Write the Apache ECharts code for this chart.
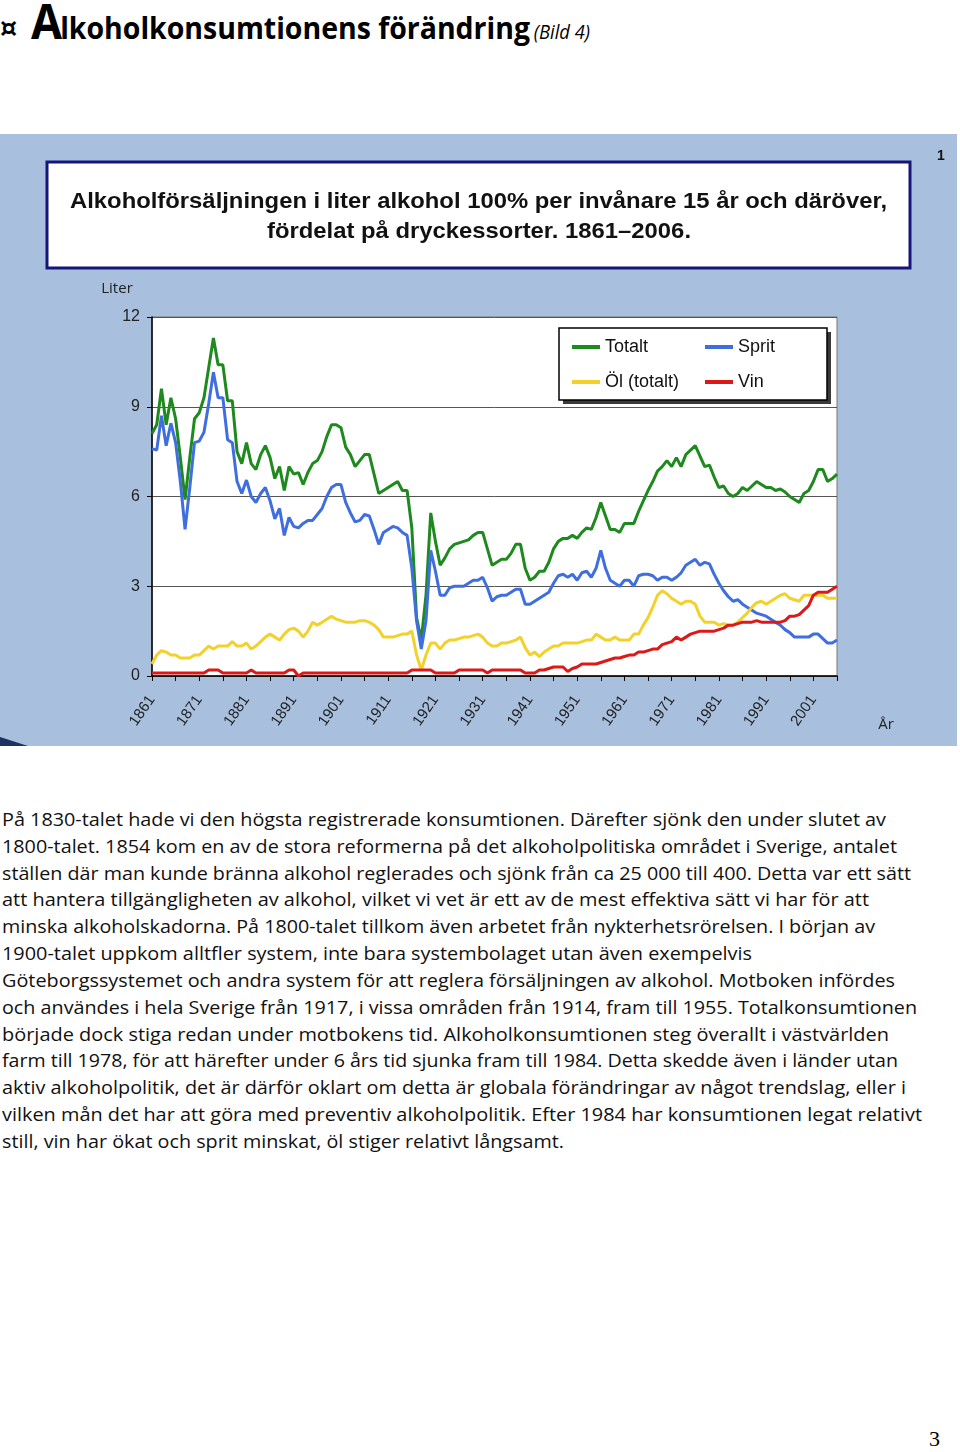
<!DOCTYPE html>
<html><head><meta charset="utf-8">
<script src="https://cdn.jsdelivr.net/npm/echarts@6.0.0/dist/echarts.min.js"></script>
<style>
html,body{margin:0;padding:0;background:#fff;width:960px;height:1452px;overflow:hidden;position:relative}
#chart{position:absolute;left:0;top:134px;width:957px;height:612px}
.ln{position:absolute;left:2px;white-space:nowrap;font-family:"Open Sans";font-size:19px;color:#111;transform-origin:0 50%;line-height:27px;height:27px}
#ttl{position:absolute;left:31px;top:-4px;white-space:nowrap;transform-origin:0 0;font-family:"Open Sans";color:#000;line-height:48px;height:48px}
</style></head><body>
<div style="position:absolute;left:0px;top:13px;font:bold 27px 'DejaVu Sans';line-height:30px;color:#000">¤</div>
<div id="ttl"><span style="font-weight:bold;font-size:49px;letter-spacing:-2px">A</span><span style="font-weight:bold;font-size:31px">lkoholkonsumtionens förändring</span> <span style="font-style:italic;font-size:20px">(Bild 4)</span></div>
<div id="chart"></div>
<div id="body"></div>
<div style="position:absolute;left:929px;top:1426px;font:22px 'Liberation Serif';color:#000">3</div>
<script>
// ---- DATA ----
const years = [];
for (let y = 1861; y <= 2006; y++) years.push(String(y));

const totalt = [
  8.1, 8.4, 9.6, 8.4, 9.3, 8.6, 7.3, 5.9, 7.3, 8.6,
  8.8, 9.3, 10.3, 11.3, 10.4, 10.4, 9.2, 9.2, 7.5, 7.1,
  7.8, 7.1, 6.9, 7.4, 7.7, 7.3, 6.6, 7.0, 6.2, 7.0,
  6.75, 6.8, 6.4, 6.8, 7.1, 7.2, 7.5, 8.0, 8.4, 8.4,
  8.3, 7.65, 7.4, 7.0, 7.2, 7.4, 7.4, 6.75, 6.1, 6.2,
  6.3, 6.4, 6.5, 6.2, 6.2, 4.95, 1.95, 1.2, 2.7, 5.45,
  4.5, 3.7, 3.95, 4.25, 4.4, 4.45, 4.5, 4.55, 4.7, 4.8,
  4.8, 4.25, 3.7, 3.8, 3.9, 3.9, 4.1, 4.4, 4.4, 3.6,
  3.2, 3.3, 3.5, 3.5, 3.8, 4.25, 4.5, 4.6, 4.6, 4.7,
  4.6, 4.8, 4.95, 4.9, 5.3, 5.8, 5.35, 4.9, 4.9, 4.8,
  5.1, 5.1, 5.1, 5.5, 5.85, 6.2, 6.5, 6.85, 7.0, 7.2,
  7.0, 7.3, 7.0, 7.4, 7.55, 7.7, 7.35, 7.0, 7.05, 6.65,
  6.3, 6.35, 6.1, 6.0, 6.1, 6.3, 6.2, 6.35, 6.5, 6.4,
  6.3, 6.3, 6.2, 6.25, 6.15, 6.0, 5.9, 5.8, 6.1, 6.2,
  6.5, 6.9, 6.9, 6.5, 6.6, 6.75
];
const sprit = [
  7.6, 7.55, 8.7, 7.7, 8.45, 7.8, 6.5, 4.9, 6.3, 7.8,
  7.85, 8.15, 9.1, 10.15, 9.3, 9.3, 7.9, 7.8, 6.5, 6.1,
  6.55, 6.0, 5.8, 6.1, 6.3, 5.85, 5.25, 5.6, 4.7, 5.3,
  5.0, 4.95, 5.1, 5.2, 5.2, 5.4, 5.6, 6.0, 6.3, 6.4,
  6.4, 5.8, 5.45, 5.15, 5.2, 5.4, 5.35, 4.9, 4.4, 4.8,
  4.9, 5.0, 4.95, 4.8, 4.7, 3.6, 1.85, 0.9, 1.85, 4.2,
  3.5, 2.7, 2.7, 2.95, 3.0, 3.0, 3.0, 3.1, 3.2, 3.2,
  3.3, 2.95, 2.5, 2.65, 2.7, 2.7, 2.8, 2.9, 2.9, 2.4,
  2.4, 2.5, 2.6, 2.7, 2.8, 3.1, 3.35, 3.4, 3.3, 3.4,
  3.2, 3.45, 3.5, 3.3, 3.6, 4.2, 3.6, 3.2, 3.1, 3.0,
  3.2, 3.2, 3.0, 3.35, 3.4, 3.4, 3.35, 3.2, 3.3, 3.3,
  3.2, 3.3, 3.45, 3.7, 3.8, 3.9, 3.7, 3.8, 3.75, 3.4,
  3.1, 2.85, 2.65, 2.5, 2.55, 2.4, 2.3, 2.2, 2.1, 2.05,
  2.0, 1.9, 1.8, 1.7, 1.55, 1.45, 1.3, 1.3, 1.3, 1.3,
  1.4, 1.4, 1.25, 1.1, 1.1, 1.2
];
const ol = [
  0.4, 0.7, 0.85, 0.8, 0.7, 0.7, 0.6, 0.6, 0.6, 0.7,
  0.7, 0.85, 1.0, 0.9, 1.0, 1.0, 1.0, 1.15, 1.0, 1.0,
  1.1, 0.9, 1.0, 1.15, 1.3, 1.4, 1.3, 1.2, 1.4, 1.55,
  1.6, 1.5, 1.3, 1.5, 1.8, 1.7, 1.8, 1.9, 2.0, 1.9,
  1.85, 1.8, 1.8, 1.8, 1.85, 1.85, 1.8, 1.7, 1.55, 1.3,
  1.3, 1.3, 1.35, 1.4, 1.4, 1.5, 0.7, 0.2, 0.7, 1.1,
  1.1, 0.9, 1.1, 1.2, 1.2, 1.25, 1.3, 1.3, 1.35, 1.4,
  1.3, 1.1, 1.0, 1.0, 1.1, 1.1, 1.15, 1.2, 1.3, 0.95,
  0.7, 0.8, 0.65, 0.8, 0.9, 1.0, 1.0, 1.1, 1.1, 1.1,
  1.1, 1.15, 1.2, 1.2, 1.4, 1.3, 1.2, 1.2, 1.3, 1.2,
  1.2, 1.2, 1.4, 1.4, 1.7, 1.95, 2.3, 2.7, 2.85, 2.75,
  2.6, 2.5, 2.4, 2.5, 2.5, 2.4, 2.0, 1.8, 1.8, 1.8,
  1.7, 1.75, 1.7, 1.7, 1.8, 1.95, 2.1, 2.3, 2.45, 2.5,
  2.4, 2.5, 2.6, 2.7, 2.75, 2.6, 2.55, 2.5, 2.7, 2.7,
  2.7, 2.7, 2.7, 2.6, 2.6, 2.6
];
const vin = [
  0.1, 0.1, 0.1, 0.1, 0.1, 0.1, 0.1, 0.1, 0.1, 0.1,
  0.1, 0.1, 0.2, 0.2, 0.2, 0.1, 0.1, 0.1, 0.1, 0.1,
  0.1, 0.2, 0.1, 0.1, 0.1, 0.1, 0.1, 0.1, 0.1, 0.2,
  0.2, 0.0, 0.1, 0.1, 0.1, 0.1, 0.1, 0.1, 0.1, 0.1,
  0.1, 0.1, 0.1, 0.1, 0.1, 0.1, 0.1, 0.1, 0.1, 0.1,
  0.1, 0.1, 0.1, 0.1, 0.1, 0.2, 0.2, 0.2, 0.2, 0.2,
  0.1, 0.1, 0.1, 0.1, 0.1, 0.2, 0.2, 0.2, 0.2, 0.2,
  0.2, 0.1, 0.2, 0.2, 0.2, 0.2, 0.2, 0.2, 0.2, 0.1,
  0.1, 0.1, 0.2, 0.2, 0.25, 0.3, 0.3, 0.3, 0.15, 0.25,
  0.3, 0.4, 0.4, 0.4, 0.4, 0.45, 0.5, 0.55, 0.6, 0.6,
  0.65, 0.7, 0.7, 0.8, 0.8, 0.85, 0.9, 0.9, 1.05, 1.1,
  1.15, 1.3, 1.2, 1.3, 1.4, 1.45, 1.5, 1.5, 1.5, 1.5,
  1.55, 1.6, 1.7, 1.7, 1.75, 1.8, 1.8, 1.8, 1.85, 1.8,
  1.8, 1.8, 1.8, 1.8, 1.85, 2.0, 2.0, 2.05, 2.2, 2.35,
  2.7, 2.8, 2.8, 2.8, 2.9, 3.0
];
const seriesNames = ['Totalt', 'Sprit', 'Öl (totalt)', 'Vin'];
const yMin = 0, yMax = 12, yStep = 3;

const titleLines = [
  'Alkoholförsäljningen i liter alkohol 100% per invånare 15 år och däröver,',
  'fördelat på dryckessorter. 1861–2006.'
];
const bodyLines = [
  'På 1830-talet hade vi den högsta registrerade konsumtionen. Därefter sjönk den under slutet av',
  '1800-talet. 1854 kom en av de stora reformerna på det alkoholpolitiska området i Sverige, antalet',
  'ställen där man kunde bränna alkohol reglerades och sjönk från ca 25 000 till 400. Detta var ett sätt',
  'att hantera tillgängligheten av alkohol, vilket vi vet är ett av de mest effektiva sätt vi har för att',
  'minska alkoholskadorna. På 1800-talet tillkom även arbetet från nykterhetsrörelsen. I början av',
  '1900-talet uppkom alltfler system, inte bara systembolaget utan även exempelvis',
  'Göteborgssystemet och andra system för att reglera försäljningen av alkohol. Motboken infördes',
  'och användes i hela Sverige från 1917, i vissa områden från 1914, fram till 1955. Totalkonsumtionen',
  'började dock stiga redan under motbokens tid. Alkoholkonsumtionen steg överallt i västvärlden',
  'farm till 1978, för att härefter under 6 års tid sjunka fram till 1984. Detta skedde även i länder utan',
  'aktiv alkoholpolitik, det är därför oklart om detta är globala förändringar av något trendslag, eller i',
  'vilken mån det har att göra med preventiv alkoholpolitik. Efter 1984 har konsumtionen legat relativt',
  'still, vin har ökat och sprit minskat, öl stiger relativt långsamt.'
];
const bodyLineEnds = [886, 897, 911, 869, 875, 752, 895, 917, 889, 898, 906, 922, 564];

// ---- page text ----
const bodyEl = document.getElementById('body');
bodyLines.forEach((t, i) => {
  const d = document.createElement('div');
  d.className = 'ln';
  d.textContent = t;
  d.style.top = (806 + i * 26.83) + 'px';
  bodyEl.appendChild(d);
  const w = d.getBoundingClientRect().width;
  d.style.transform = 'scaleX(' + ((bodyLineEnds[i] - 2) / w) + ')';
});
const ttl = document.getElementById('ttl');
const tw = ttl.getBoundingClientRect().width;
ttl.style.transform = 'scaleX(' + ((590 - 31) / tw) + ')';

const cv = document.createElement('canvas').getContext('2d');
function measure(text, font) { cv.font = font; return cv.measureText(text).width; }
const TF = 'bold 22px "Liberation Sans"';
const s1 = 817 / measure(titleLines[0], TF);
const s2 = 424 / measure(titleLines[1], TF);

// ---- chart ----
const colors = ['#1e8a1e', '#3f6ede', '#f2d22a', '#dd1818'];
const chart = echarts.init(document.getElementById('chart'));
const vals = [totalt, sprit, ol, vin];
const lf = { fontFamily: 'Liberation Sans', fontSize: 18, color: '#111', lineHeight: 20 };
const legBase = { orient: 'vertical', top: 203, padding: 0, icon: 'rect', itemWidth: 28, itemHeight: 4, itemGap: 15, textStyle: lf, z: 20 };
chart.setOption({
  backgroundColor: '#a8c0de',
  animation: false,
  color: colors,
  grid: { left: 152, right: 120, top: 183, bottom: 70, show: true, backgroundColor: '#ffffff', borderColor: '#777', borderWidth: 1 },
  legend: [
    Object.assign({}, legBase, { data: ['Totalt', 'Öl (totalt)'], left: 572 }),
    Object.assign({}, legBase, { data: ['Sprit', 'Vin'], left: 705 })
  ],
  xAxis: {
    type: 'category', data: years, boundaryGap: false,
    axisLine: { lineStyle: { color: '#000', width: 1.5 } },
    axisTick: { interval: 4, length: 5, lineStyle: { color: '#000' } },
    axisLabel: { interval: 9, rotate: 55, margin: 21, fontFamily: 'Liberation Sans', fontSize: 15, color: '#222' },
    splitLine: { show: false }
  },
  yAxis: {
    type: 'value', min: yMin, max: yMax, interval: yStep,
    axisLine: { show: true, lineStyle: { color: '#000', width: 1.5 } },
    axisTick: { show: true, length: 5, lineStyle: { color: '#000' } },
    axisLabel: { margin: 12, fontFamily: 'Liberation Sans', fontSize: 16, color: '#222' },
    splitLine: { lineStyle: { color: '#555', width: 1 } }
  },
  series: seriesNames.map((n, i) => ({
    name: n, type: 'line', data: vals[i], symbol: 'none', smooth: false,
    lineStyle: { width: 3, color: colors[i] }, itemStyle: { color: colors[i] }, z: 3 + i
  })),
  graphic: [
    { type: 'rect', shape: { x: 47, y: 28, width: 863, height: 106 }, style: { fill: '#fff', stroke: '#16167a', lineWidth: 3 }, z: 10 },
    { type: 'text', x: 478.5, y: 68, scaleX: s1, style: { text: titleLines[0], font: TF, fill: '#111', align: 'center', verticalAlign: 'middle' }, z: 11 },
    { type: 'text', x: 479, y: 98, scaleX: s2, style: { text: titleLines[1], font: TF, fill: '#111', align: 'center', verticalAlign: 'middle' }, z: 11 },
    { type: 'text', x: 941, y: 22, style: { text: '1', font: 'bold 14px "Liberation Sans"', fill: '#111', align: 'center', verticalAlign: 'middle' }, z: 11 },
    { type: 'text', x: 117, y: 155, style: { text: 'Liter', font: '15px "Open Sans"', fill: '#222', align: 'center', verticalAlign: 'middle' }, z: 11 },
    { type: 'text', x: 886, y: 591, style: { text: 'År', font: '15px "Open Sans"', fill: '#222', align: 'center', verticalAlign: 'middle' }, z: 11 },
    { type: 'rect', shape: { x: 563, y: 198, width: 268, height: 72 }, style: { fill: '#3a3a3a' }, z: 1 },
    { type: 'rect', shape: { x: 559, y: 194, width: 268, height: 72 }, style: { fill: '#fff', stroke: '#000', lineWidth: 1.5 }, z: 2 },
    { type: 'polygon', shape: { points: [[0, 603], [0, 612], [28, 612]] }, style: { fill: '#1c3260' }, z: 9 }
  ]
});
</script>
</body></html>
